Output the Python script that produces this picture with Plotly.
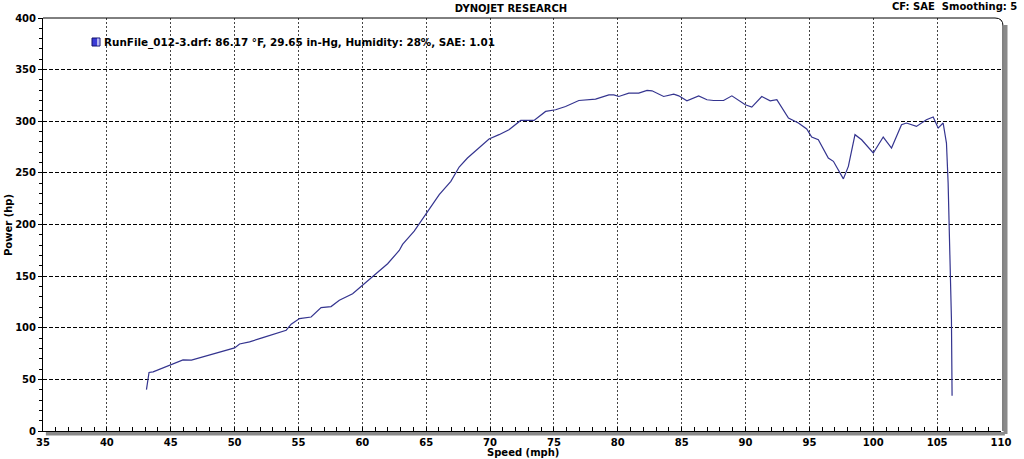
import plotly.graph_objects as go

# Data
speed_mph = [43.10, 43.30, 43.62, 45.05, 45.96, 46.62, 48.05, 48.83, 50.00, 50.39,
             51.17, 52.21, 53.26, 54.04, 54.43, 55.08, 55.99, 56.77, 57.55, 58.20,
             59.24, 60.02, 61.07, 61.98, 62.89, 63.15, 64.06, 64.98, 66.02, 66.93,
             67.58, 68.23, 69.14, 69.92, 70.70, 71.48, 72.40, 73.44, 74.35, 75.13,
             75.91, 76.95, 78.26, 79.30, 79.69, 80.08, 80.86, 81.64, 82.29, 82.68,
             83.59, 84.38, 84.77, 85.41, 86.33, 86.98, 87.50, 88.28, 88.93, 89.98,
             90.49, 91.27, 91.93, 92.45, 93.36, 94.14, 94.79, 95.18, 95.70, 96.48,
             96.88, 97.66, 98.05, 98.57, 99.09, 100.00, 100.78, 101.43, 102.21, 102.60,
             103.38, 104.16, 104.69, 105.08, 105.47, 105.73, 105.86, 105.94, 106.04, 106.12,
             106.17]
power_hp = [40.0, 56.7, 57.3, 64.7, 68.9, 68.6, 73.4, 76.6, 80.5, 84.3,
            86.3, 90.5, 94.4, 97.6, 103.4, 108.9, 110.4, 119.5, 120.5, 126.6,
            133.0, 141.1, 152.4, 162.0, 174.9, 180.7, 193.5, 209.7, 229.0, 241.8,
            255.7, 264.4, 274.1, 282.8, 287.0, 291.8, 300.8, 300.8, 309.5, 311.1,
            314.3, 320.1, 321.4, 325.6, 325.6, 324.0, 327.2, 327.2, 329.8, 329.5,
            324.0, 326.3, 324.6, 319.8, 324.6, 320.8, 320.1, 320.1, 324.6, 315.9,
            313.7, 324.0, 319.8, 320.8, 303.1, 298.3, 292.5, 284.7, 282.1, 264.4,
            261.2, 244.2, 256.3, 287.0, 282.1, 269.3, 284.7, 274.1, 296.6, 298.3,
            295.0, 301.4, 304.1, 293.4, 298.3, 278.9, 240.3, 198.4, 143.7, 108.2,
            34.1]

x_ticks = [35, 40, 45, 50, 55, 60, 65, 70, 75, 80, 85, 90, 95, 100, 105, 110]
y_ticks = [0, 50, 100, 150, 200, 250, 300, 350, 400]

title_text = "DYNOJET RESEARCH"
info_text = "CF: SAE\u00a0\u00a0Smoothing: 5"
legend_text = "RunFile_012-3.drf: 86.17 \u00b0F, 29.65 in-Hg, Humidity: 28%, SAE: 1.01"
x_title = "Speed (mph)"
y_title = "Power (hp)"

FONT = "DejaVu Sans"
LINE_COLOR = "#34348f"

W, H = 1024, 459
SCR_L, SCR_R, SCR_T, SCR_B = 43, 1001, 18, 431   # plot area in pixels
L = SCR_L
T = SCR_T
R = W - SCR_R
B = H - SCR_B
pw = SCR_R - SCR_L
ph = SCR_B - SCR_T

def px_x(p):
    return (p - SCR_L) / pw

def px_y(p):
    return (SCR_B - p) / ph

fig = go.Figure()
fig.add_trace(go.Scatter(
    x=speed_mph, y=power_hp, mode="lines",
    line=dict(color=LINE_COLOR, width=1.2),
    showlegend=False, hoverinfo="x+y"))

fig.update_layout(
    width=W, height=H,
    margin=dict(l=L, r=R, t=T, b=B),
    paper_bgcolor="white", plot_bgcolor="white",
    font=dict(family=FONT, size=10, color="black"),
    title=dict(text=title_text, x=511 / W, xref="container", xanchor="center",
               y=1 - 8.5 / H, yref="container", yanchor="middle",
               font=dict(family=FONT, size=10, color="black", weight="bold")),
    showlegend=False,
)

fig.update_xaxes(
    range=[35, 110], tickvals=x_ticks, ticktext=[str(v) for v in x_ticks],
    showgrid=True, gridcolor="#444444", gridwidth=1, griddash="2px,2px",
    zeroline=False, showline=True, linecolor="black", linewidth=1,
    ticks="inside", ticklen=4, tickcolor="black",
    minor=dict(dtick=1, ticks="inside", ticklen=4, tickcolor="black", showgrid=False),
    tickfont=dict(family=FONT, size=10, color="black", weight="bold"),
    ticklabelstandoff=2,
)
fig.update_yaxes(
    range=[0, 400], tickvals=y_ticks, ticktext=[str(v) for v in y_ticks],
    showgrid=True, gridcolor="black", gridwidth=1, griddash="4px,2px",
    zeroline=False, showline=True, linecolor="black", linewidth=1,
    ticks="outside", ticklen=4, tickcolor="black",
    minor=dict(dtick=10, ticks="outside", ticklen=3, tickcolor="black", showgrid=False),
    tickfont=dict(family=FONT, size=10, color="black", weight="bold"),
)

shapes = []
# gray bottom band
shapes.append(dict(type="rect", xref="paper", yref="paper",
                   x0=0.003, x1=1.004, y0=-4.5 / ph, y1=-1 / ph,
                   fillcolor="#8a8a8a", line=dict(width=0), layer="above"))
# top / right frame
shapes.append(dict(type="path", xref="paper", yref="paper",
                   path=f"M 0,1 L {1 - 6/pw},1 Q {1 + 2/pw},1 {1 + 2/pw},{1 - 8/ph} L {1 + 2/pw},0",
                   line=dict(color="black", width=1), layer="above"))
shapes.append(dict(type="line", xref="paper", yref="paper",
                   x0=1 + 4.5 / pw, x1=1 + 4.5 / pw, y0=1 - 7 / ph, y1=-3 / ph,
                   line=dict(color="#8a8a8a", width=4), layer="above"))
# legend swatch
shapes.append(dict(type="rect", xref="paper", yref="paper",
                   x0=px_x(92), x1=px_x(100), y0=px_y(46), y1=px_y(38),
                   fillcolor="#3b3bd6", line=dict(color="#10106a", width=1), layer="above"))
shapes.append(dict(type="rect", xref="paper", yref="paper",
                   x0=px_x(97), x1=px_x(99.5), y0=px_y(45.5), y1=px_y(38.5),
                   fillcolor="#b8b8f0", line=dict(width=0), layer="above"))
fig.update_layout(shapes=shapes)

annotations = [
    dict(text=legend_text, xref="paper", yref="paper", x=px_x(102), y=px_y(42),
         xanchor="left", yanchor="middle", showarrow=False,
         font=dict(family=FONT, size=10.4, color="black", weight="bold")),
    dict(text=info_text, xref="paper", yref="paper", x=px_x(1019), y=px_y(7),
         xanchor="right", yanchor="middle", showarrow=False,
         font=dict(family=FONT, size=10, color="black", weight="bold")),
    dict(text=x_title, xref="paper", yref="paper", x=px_x(523), y=px_y(452),
         xanchor="center", yanchor="middle", showarrow=False,
         font=dict(family=FONT, size=10, color="black", weight="bold")),
    dict(text=y_title, xref="paper", yref="paper", x=px_x(8), y=px_y(225),
         xanchor="center", yanchor="middle", showarrow=False, textangle=-90,
         font=dict(family=FONT, size=10, color="black", weight="bold")),
]
fig.update_layout(annotations=annotations)

# remove the browser's default 8px page margin so the figure fills the window
fig.write_html("out.html", config={"displayModeBar": False},
               post_script="document.body.style.margin='0px';")
